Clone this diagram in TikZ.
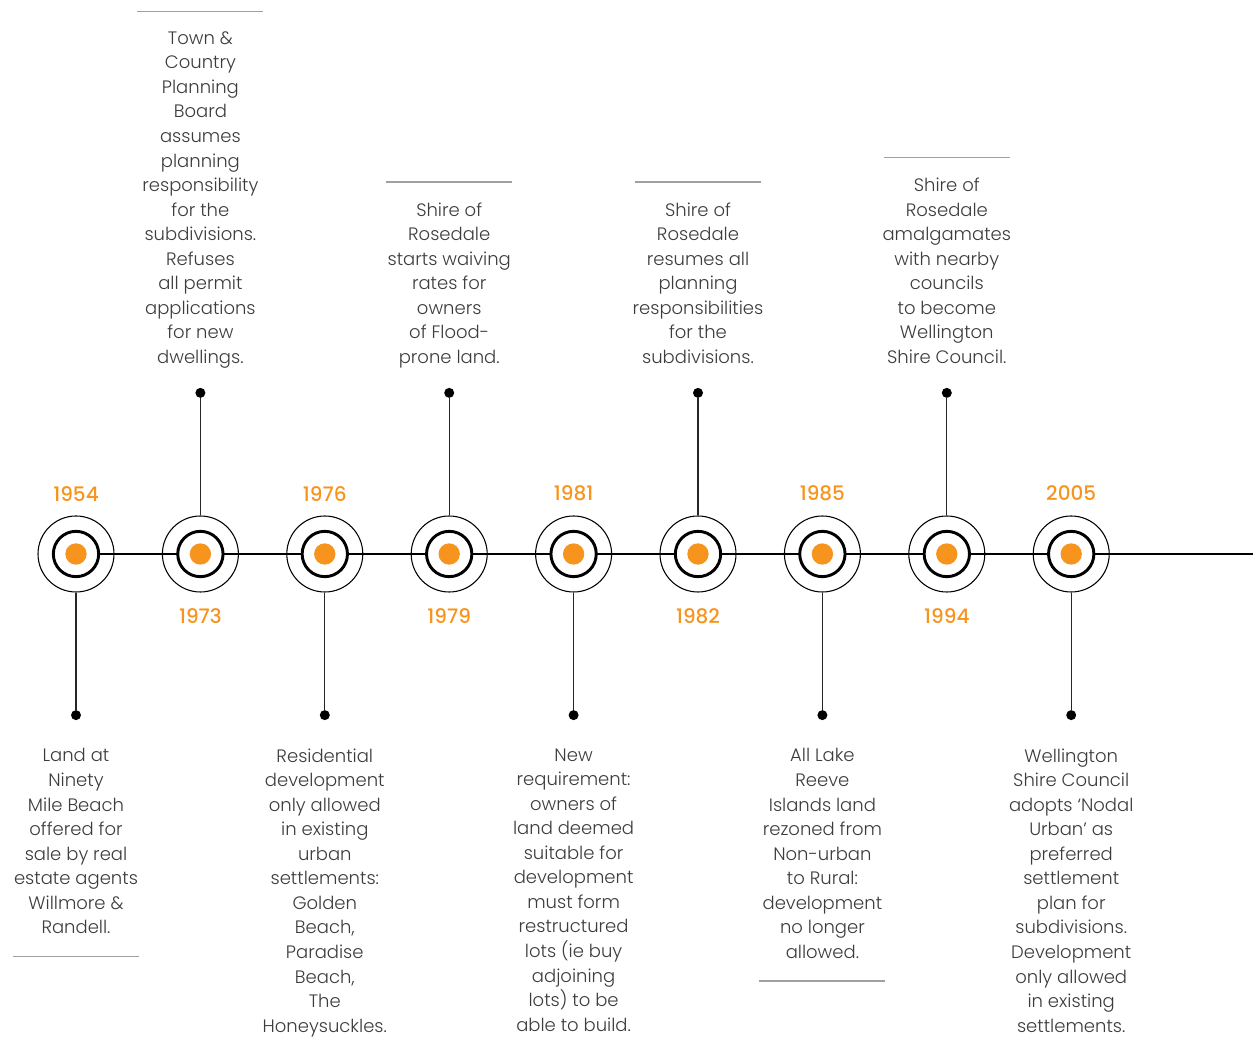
\documentclass[tikz,border=0pt]{standalone}
\usepackage{fontspec}
\IfFontExistsTF{Poppins Light}{\setmainfont{Poppins Light}}{\setmainfont{Poppins}}
\IfFontExistsTF{Poppins Medium}{\newfontfamily\yearfont{Poppins Medium}}{\newfontfamily\yearfont{Poppins}}
\usetikzlibrary{positioning}
\definecolor{yearorange}{HTML}{F7941D}
\definecolor{textgrey}{HTML}{3C3C3C}
\definecolor{rulegrey}{HTML}{A0A0A0}

\begin{document}
\begin{tikzpicture}[x=0.75pt,y=0.75pt,
  ring/.style={draw,circle,minimum size=57pt,inner sep=0,line width=0.8pt},
  core/.style={draw,circle,fill=white,minimum size=34pt,inner sep=0,line width=2.2pt},
  hub/.style={circle,fill=yearorange,minimum size=16pt,inner sep=0},
  pin/.style={circle,fill=black,minimum size=7.5pt,inner sep=0},
  year/.style={text=yearorange,font=\yearfont\fontsize{15}{18}\selectfont,inner sep=0},
  story/.style={align=center,text=textgrey,inner sep=0,text depth=4pt,font=\fontsize{13.5}{18.4}\selectfont},
  stem/.style={line width=1pt,draw=black!85},
  rule/.style={line width=1.2pt,draw=rulegrey}]
  \useasboundingbox (0,0) rectangle (1253,1050);

  \coordinate (end) at (1253,496);
  \draw[line width=1pt] (76,496) -- (end);

  % rings along the line
  \node[ring] (e1954) at (76,496) {};
  \node[ring] (e1973) at (200.4,496) {};
  \node[ring] (e1976) at (324.8,496) {};
  \node[ring] (e1979) at (449.2,496) {};
  \node[ring] (e1981) at (573.6,496) {};
  \node[ring] (e1982) at (698,496) {};
  \node[ring] (e1985) at (822.4,496) {};
  \node[ring] (e1994) at (946.8,496) {};
  \node[ring] (e2005) at (1071.2,496) {};
  \foreach \y in {1954,1973,1976,1979,1981,1982,1985,1994,2005}{
    \node[core] at (e\y) {};
    \node[hub] at (e\y) {};
  }

  % years
  \node[year,above=10pt of e1954] (y1954) {1954};
  \node[year,below=12pt of e1973] (y1973) {1973};
  \node[year,above=10pt of e1976] (y1976) {1976};
  \node[year,below=12pt of e1979] (y1979) {1979};
  \node[year,above=11pt of e1981] (y1981) {1981};
  \node[year,below=12pt of e1982] (y1982) {1982};
  \node[year,above=11pt of e1985] (y1985) {1985};
  \node[year,below=12pt of e1994] (y1994) {1994};
  \node[year,above=11pt of e2005] (y2005) {2005};

  % pins
  \node[pin,below=88pt of e1954] (p1954) {};
  \node[pin,above=88pt of e1973] (p1973) {};
  \node[pin,below=88pt of e1976] (p1976) {};
  \node[pin,above=88pt of e1979] (p1979) {};
  \node[pin,below=88pt of e1981] (p1981) {};
  \node[pin,above=88pt of e1982] (p1982) {};
  \node[pin,below=88pt of e1985] (p1985) {};
  \node[pin,above=88pt of e1994] (p1994) {};
  \node[pin,below=88pt of e2005] (p2005) {};
  \foreach \y in {1954,1973,1976,1979,1981,1982,1985,1994,2005}
    \draw[stem] (e\y) -- (p\y);

  % texts
  \node[story,below=21pt of p1954] (t1954) {Land at\\Ninety\\Mile Beach\\offered for\\sale by real\\estate agents\\Willmore \&\\Randell.};
  \node[story,above=14pt of p1973] (t1973) {Town \&\\Country\\Planning\\Board\\assumes\\planning\\responsibility\\for the\\subdivisions.\\Refuses\\all permit\\applications\\for new\\dwellings.};
  \node[story,below=21pt of p1976] (t1976) {Residential\\development\\only allowed\\in existing\\urban\\settlements:\\Golden\\Beach,\\Paradise\\Beach,\\The\\Honeysuckles.};
  \node[story,above=14pt of p1979] (t1979) {Shire of\\Rosedale\\starts waiving\\rates for\\owners\\of Flood-\\prone land.};
  \node[story,below=21pt of p1981] (t1981) {New\\requirement:\\owners of\\land deemed\\suitable for\\development\\must form\\restructured\\lots (ie buy\\adjoining\\lots) to be\\able to build.};
  \node[story,above=14pt of p1982] (t1982) {Shire of\\Rosedale\\resumes all\\planning\\responsibilities\\for the\\subdivisions.};
  \node[story,below=21pt of p1985] (t1985) {All Lake\\Reeve\\Islands land\\rezoned from\\Non-urban\\to Rural:\\development\\no longer\\allowed.};
  \node[story,above=14pt of p1994] (t1994) {Shire of\\Rosedale\\amalgamates\\with nearby\\councils\\to become\\Wellington\\Shire Council.};
  \node[story,below=21pt of p2005] (t2005) {Wellington\\Shire Council\\adopts ‘Nodal\\Urban’ as\\preferred\\settlement\\plan for\\subdivisions.\\Development\\only allowed\\in existing\\settlements.};

  % grey rules
  \draw[rule] ([shift={(-63,-17)}]t1954.south) -- ([shift={(63,-17)}]t1954.south);
  \draw[rule] ([shift={(-63,-17)}]t1985.south) -- ([shift={(63,-17)}]t1985.south);
  \draw[rule] ([shift={(-63,20)}]t1973.north) -- ([shift={(63,20)}]t1973.north);
  \draw[rule] ([shift={(-63,20)}]t1979.north) -- ([shift={(63,20)}]t1979.north);
  \draw[rule] ([shift={(-63,20)}]t1982.north) -- ([shift={(63,20)}]t1982.north);
  \draw[rule] ([shift={(-63,20)}]t1994.north) -- ([shift={(63,20)}]t1994.north);
\end{tikzpicture}
\end{document}
